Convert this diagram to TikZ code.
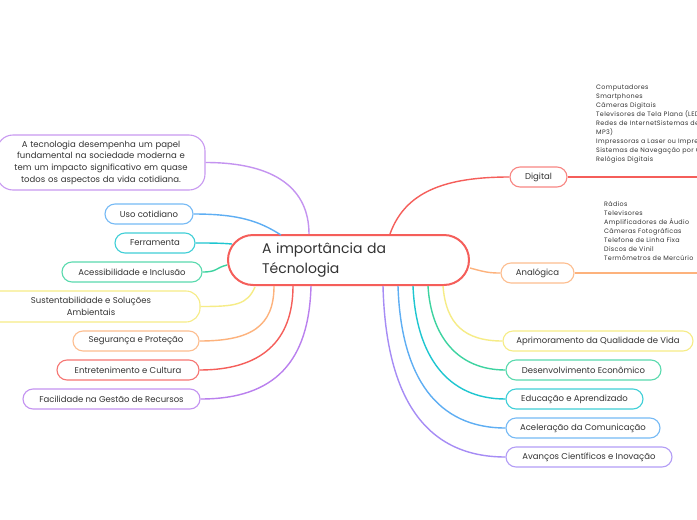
\documentclass[tikz,border=0pt]{standalone}
\usepackage{fontspec}
\setmainfont{Poppins}
\newfontfamily\lstfont[LetterSpace=5]{Poppins}
\usetikzlibrary{calc}
\definecolor{cred}{HTML}{F55E5A}
\definecolor{corange}{HTML}{FDB27C}
\definecolor{cyellow}{HTML}{F6EC86}
\definecolor{cgreen}{HTML}{3DD3A0}
\definecolor{ccyan}{HTML}{1EC6D0}
\definecolor{cblue}{HTML}{5EAEF3}
\definecolor{cpurple}{HTML}{A68CF5}
\definecolor{cviolet}{HTML}{BA80EE}
\definecolor{txt}{HTML}{333333}
\begin{document}
\begin{tikzpicture}[x=1pt,y=-1pt,
  leaf/.style={draw, line width=1.1pt, rounded corners=10pt, minimum height=20pt, inner sep=0pt, fill=white, text=txt, font=\fontsize{8.5}{10}\selectfont},
  con/.style={line width=1.4pt},
  lst/.style={anchor=north west, inner sep=0pt, align=left, text=txt, font=\lstfont\fontsize{6.4}{9}\selectfont}
]
\useasboundingbox (0,0) rectangle (697,520);
\clip (0,0) rectangle (697,520);
\fill[white] (0,0) rectangle (697,520);

% central
\node[draw=cred, line width=2pt, rounded corners=25pt, minimum width=241pt, minimum height=50pt,
  inner xsep=34pt, text width=173pt, align=left, text=txt, font=\fontsize{14}{19.5}\selectfont] (c) at (348.5,260) {A importância da\\Técnologia};

% description
\node[draw=cviolet!80, line width=1.1pt, rounded corners=16pt, minimum width=208pt, minimum height=55pt, text width=200pt, align=center, inner sep=0pt, text=txt, font=\fontsize{8.5}{11.6}\selectfont] (desc) at (101,162.5) {A tecnologia desempenha um papel\\fundamental na sociedade moderna e\\tem um impacto significativo em quase\\todos os aspectos da vida cotidiana.};

% left leaves
\node[leaf, draw=cblue!85, minimum width=88pt] (uso) at (149,214) {Uso cotidiano};
\node[leaf, draw=ccyan!85, minimum width=80pt] (fer) at (155,243) {Ferramenta};
\node[leaf, draw=cgreen!85, minimum width=140pt] (ace) at (132,272) {Acessibilidade e Inclusão};
\node[leaf, draw=cyellow, minimum width=218pt, minimum height=31pt, rounded corners=14pt, align=center, font=\fontsize{8.5}{12}\selectfont] (sus) at (91,306.5) {Sustentabilidade e Soluções\\Ambientais};
\node[leaf, draw=corange!85, minimum width=126pt] (seg) at (136,341) {Segurança e Proteção};
\node[leaf, draw=cred!85, minimum width=142pt] (ent) at (128,370) {Entretenimento e Cultura};
\node[leaf, draw=cviolet!85, minimum width=177pt] (fac) at (111.5,399) {Facilidade na Gestão de Recursos};

% right nodes
\node[leaf, draw=cred!75, minimum width=57pt] (dig) at (538.5,177) {Digital};
\node[leaf, draw=corange!85, minimum width=73pt] (ana) at (537.5,273) {Analógica};
\node[leaf, draw=cyellow, minimum width=190pt] (apr) at (598,341) {Aprimoramento da Qualidade de Vida};
\node[leaf, draw=cgreen!85, minimum width=155pt] (des) at (583.5,370) {Desenvolvimento Econômico};
\node[leaf, draw=ccyan!85, minimum width=137pt] (edu) at (574.5,399) {Educação e Aprendizado};
\node[leaf, draw=cblue!85, minimum width=154pt] (acel) at (583,428) {Aceleração da Comunicação};
\node[leaf, draw=cpurple!85, minimum width=166pt] (ava) at (589,457) {Avanços Científicos e Inovação};

% lists
\node[lst] (ldig) at (596,85) {Computadores\\Smartphones\\Câmeras Digitais\\Televisores de Tela Plana (LED, LCD, OLED)\\Redes de InternetSistemas de Som Digital (CD,\\MP3)\\Impressoras a Laser ou Impressoras Jato de Tinta\\Sistemas de Navegação por GPS\\Relógios Digitais};
\node[lst] (lana) at (604,201) {Rádios\\Televisores\\Amplificadores de Áudio\\Câmeras Fotográficas\\Telefone de Linha Fixa\\Discos de Vinil\\Termômetros de Mercúrio};

\coordinate (dend) at (697,177);
\coordinate (aend) at (697,273);

% connectors
\draw[con, cviolet!85] (desc.east) .. controls +(70,0) and +(0,-45) .. ([xshift=82pt]c.north west);
\draw[con, cblue] (uso.east) .. controls +(45,0) and +(-22,-14) .. ([xshift=54pt,yshift=-1pt]c.north west);
\draw[con, ccyan] (fer.east) .. controls +(15,0) and +(-12,-1) .. ([xshift=5pt,yshift=-10pt]c.north west);
\draw[con, cgreen] (ace.east) .. controls +(15,0) and +(-12,3) .. ([yshift=-31pt]c.north west);
\draw[con, cyellow] (sus.east) .. controls +(35,0) and +(-8,18) .. ([xshift=28pt,yshift=-1pt]c.south west);
\draw[con, corange] (seg.east) .. controls +(52,0) and +(0,40) .. ([xshift=47pt]c.south west);
\draw[con, cred] (ent.east) .. controls +(62,0) and +(0,55) .. ([xshift=66pt]c.south west);
\draw[con, cviolet] (fac.east) .. controls +(75,0) and +(-2,75) .. ([xshift=84pt]c.south west);

\draw[con, cred] ([xshift=163pt]c.north west) .. controls +(15,-42) and +(-65,0) .. (dig.west);
\draw[con, cred, line width=1.1pt] (dig.east) -- (dend);
\draw[con, corange] ([yshift=-34pt]c.north east) .. controls +(15,4) and +(-12,0) .. (ana.west);
\draw[con, corange, line width=1.1pt] (ana.east) -- (aend);

\draw[con, cyellow] ([xshift=216pt]c.south west) .. controls +(3,38) and +(-38,0) .. (apr.west);
\draw[con, cgreen] ([xshift=201pt]c.south west) .. controls +(3,50) and +(-48,0) .. (des.west);
\draw[con, ccyan] ([xshift=186pt]c.south west) .. controls +(3,70) and +(-58,0) .. (edu.west);
\draw[con, cblue] ([xshift=171pt]c.south west) .. controls +(3,92) and +(-68,0) .. (acel.west);
\draw[con, cpurple] ([xshift=156pt]c.south west) .. controls +(3,115) and +(-78,0) .. (ava.west);
\end{tikzpicture}
\end{document}
